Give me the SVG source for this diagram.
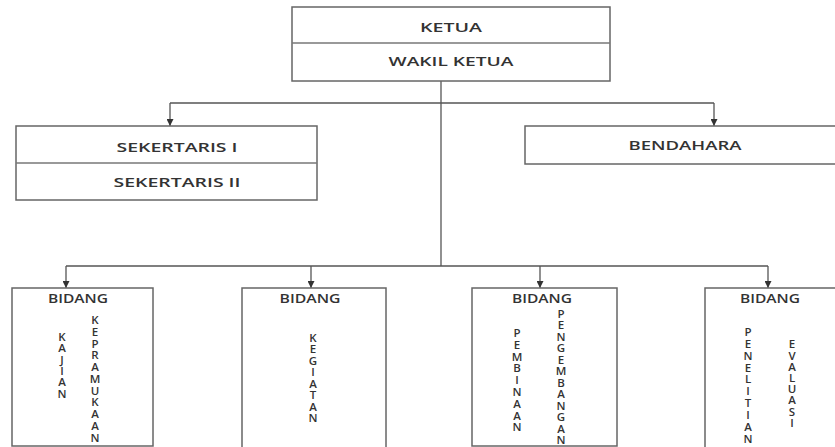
<svg xmlns="http://www.w3.org/2000/svg" width="835" height="447" viewBox="0 0 835 447">
<defs>
<marker id="arr" viewBox="0 0 8 8" refX="8" refY="4" markerWidth="7" markerHeight="7" markerUnits="userSpaceOnUse" orient="auto">
<path d="M0,0 L8,4 L0,8 Z" fill="#333"/>
</marker>
<style>
.box{fill:#fff;stroke:#666;stroke-width:1.5}
.div{stroke:#777;stroke-width:1.3}
.t{font-family:"Open Sans","DejaVu Sans",sans-serif;font-size:12px;font-weight:600;fill:#333;text-anchor:middle}
.v{font-family:"Open Sans","DejaVu Sans",sans-serif;font-size:11.5px;font-weight:600;fill:#333;text-anchor:middle}
.ln{fill:none;stroke:#555;stroke-width:1.3}
</style>
</defs>
<rect width="835" height="447" fill="#fff"/>
<g id="connectors">
<line class="ln" x1="441" y1="81" x2="441" y2="266"/>
<line class="ln" x1="170" y1="103" x2="714" y2="103"/>
<line class="ln" x1="170" y1="103" x2="170" y2="126" marker-end="url(#arr)"/>
<line class="ln" x1="714" y1="103" x2="714" y2="126" marker-end="url(#arr)"/>
<line class="ln" x1="66" y1="266" x2="768" y2="266"/>
<line class="ln" x1="66" y1="266" x2="66" y2="288" marker-end="url(#arr)"/>
<line class="ln" x1="311" y1="266" x2="311" y2="288" marker-end="url(#arr)"/>
<line class="ln" x1="540" y1="266" x2="540" y2="288" marker-end="url(#arr)"/>
<line class="ln" x1="768" y1="266" x2="768" y2="288" marker-end="url(#arr)"/>
</g>
<g id="ketua">
<rect class="box" x="292" y="7" width="318" height="74"/>
<line class="div" x1="292" y1="43" x2="610" y2="43"/>
<text class="t" x="451" y="31.5" textLength="62" lengthAdjust="spacingAndGlyphs">KETUA</text>
<text class="t" x="451" y="66" textLength="125" lengthAdjust="spacingAndGlyphs">WAKIL KETUA</text>
</g>
<g id="sekertaris">
<rect class="box" x="16" y="126" width="301" height="74"/>
<line class="div" x1="16" y1="163" x2="317" y2="163"/>
<text class="t" x="177" y="151.5" textLength="121" lengthAdjust="spacingAndGlyphs">SEKERTARIS I</text>
<text class="t" x="177" y="187" textLength="127" lengthAdjust="spacingAndGlyphs">SEKERTARIS II</text>
</g>
<g id="bendahara">
<rect class="box" x="525" y="126" width="320" height="38"/>
<text class="t" x="685" y="150" textLength="113" lengthAdjust="spacingAndGlyphs">BENDAHARA</text>
</g>
<g id="bidang-kajian">
<rect class="box" x="12" y="288" width="141" height="158"/>
<text class="t" x="78" y="303" textLength="60" lengthAdjust="spacingAndGlyphs">BIDANG</text>
<text class="v"><tspan x="62" y="341">K</tspan><tspan x="62" dy="11.3">A</tspan><tspan x="62" dy="11.3">J</tspan><tspan x="62" dy="11.3">I</tspan><tspan x="62" dy="11.3">A</tspan><tspan x="62" dy="11.3">N</tspan></text>
<text class="v"><tspan x="95" y="324">K</tspan><tspan x="95" dy="11.77">E</tspan><tspan x="95" dy="11.77">P</tspan><tspan x="95" dy="11.77">R</tspan><tspan x="95" dy="11.77">A</tspan><tspan x="95" dy="11.77">M</tspan><tspan x="95" dy="11.77">U</tspan><tspan x="95" dy="11.77">K</tspan><tspan x="95" dy="11.77">A</tspan><tspan x="95" dy="11.77">A</tspan><tspan x="95" dy="11.77">N</tspan></text>
</g>
<g id="bidang-kegiatan">
<rect class="box" x="242" y="288" width="144" height="170"/>
<text class="t" x="310" y="303" textLength="61" lengthAdjust="spacingAndGlyphs">BIDANG</text>
<text class="v"><tspan x="313" y="341.7">K</tspan><tspan x="313" dy="11.5">E</tspan><tspan x="313" dy="11.5">G</tspan><tspan x="313" dy="11.5">I</tspan><tspan x="313" dy="11.5">A</tspan><tspan x="313" dy="11.5">T</tspan><tspan x="313" dy="11.5">A</tspan><tspan x="313" dy="11.5">N</tspan></text>
</g>
<g id="bidang-pembinaan">
<rect class="box" x="472" y="288" width="145" height="158"/>
<text class="t" x="542" y="303" textLength="60" lengthAdjust="spacingAndGlyphs">BIDANG</text>
<text class="v"><tspan x="517" y="337">P</tspan><tspan x="517" dy="11.8">E</tspan><tspan x="517" dy="11.8">M</tspan><tspan x="517" dy="11.8">B</tspan><tspan x="517" dy="11.8">I</tspan><tspan x="517" dy="11.8">N</tspan><tspan x="517" dy="11.8">A</tspan><tspan x="517" dy="11.8">A</tspan><tspan x="517" dy="11.8">N</tspan></text>
<text class="v"><tspan x="561" y="318">P</tspan><tspan x="561" dy="11.45">E</tspan><tspan x="561" dy="11.45">N</tspan><tspan x="561" dy="11.45">G</tspan><tspan x="561" dy="11.45">E</tspan><tspan x="561" dy="11.45">M</tspan><tspan x="561" dy="11.45">B</tspan><tspan x="561" dy="11.45">A</tspan><tspan x="561" dy="11.45">N</tspan><tspan x="561" dy="11.45">G</tspan><tspan x="561" dy="11.45">A</tspan><tspan x="561" dy="11.45">N</tspan></text>
</g>
<g id="bidang-penelitian">
<rect class="box" x="705" y="288" width="140" height="170"/>
<text class="t" x="770" y="303" textLength="60" lengthAdjust="spacingAndGlyphs">BIDANG</text>
<text class="v"><tspan x="748" y="336">P</tspan><tspan x="748" dy="11.85">E</tspan><tspan x="748" dy="11.85">N</tspan><tspan x="748" dy="11.85">E</tspan><tspan x="748" dy="11.85">L</tspan><tspan x="748" dy="11.85">I</tspan><tspan x="748" dy="11.85">T</tspan><tspan x="748" dy="11.85">I</tspan><tspan x="748" dy="11.85">A</tspan><tspan x="748" dy="11.85">N</tspan></text>
<text class="v"><tspan x="792" y="348.3">E</tspan><tspan x="792" dy="11.2">V</tspan><tspan x="792" dy="11.2">A</tspan><tspan x="792" dy="11.2">L</tspan><tspan x="792" dy="11.2">U</tspan><tspan x="792" dy="11.2">A</tspan><tspan x="792" dy="11.2">S</tspan><tspan x="792" dy="11.2">I</tspan></text>
</g>
</svg>
